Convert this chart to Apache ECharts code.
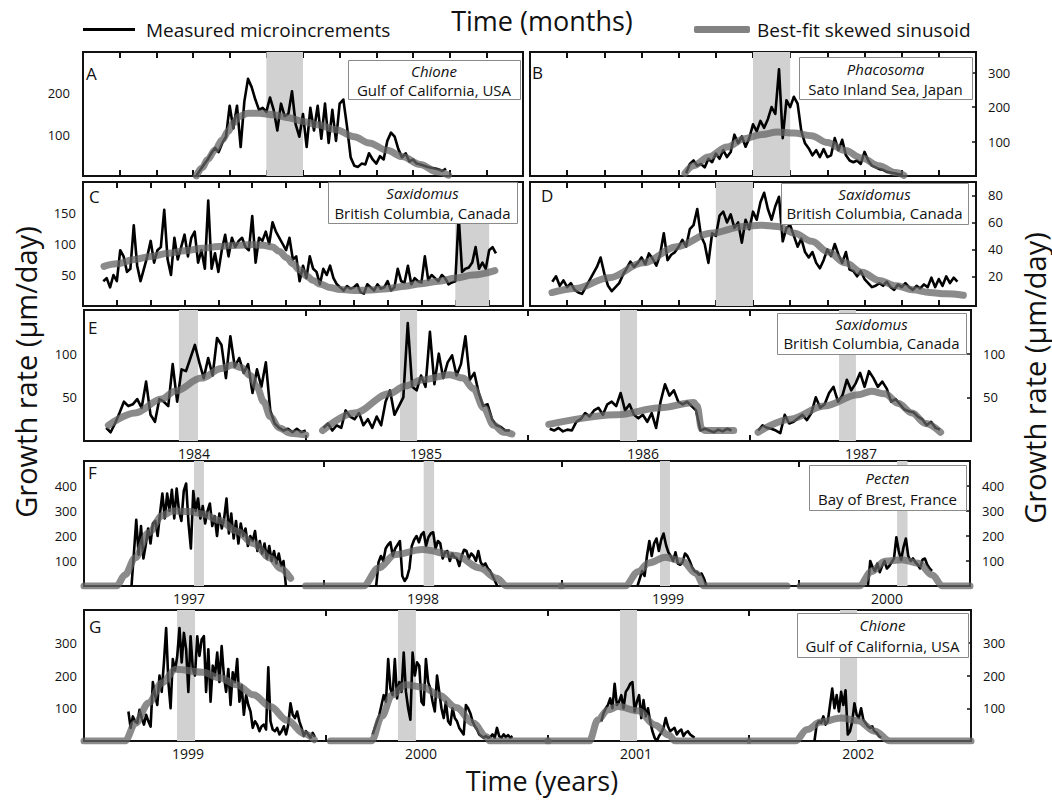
<!DOCTYPE html>
<html><head><meta charset="utf-8">
<script src="https://cdn.jsdelivr.net/npm/echarts@6/dist/echarts.min.js"></script>
<style>html,body{margin:0;padding:0;background:#fff}#c{width:1052px;height:801px}</style>
</head><body><div id="c"></div>
<script>
// ---------------- DATA ----------------
// Panel A  (months)
const A_measStart = 3.1, A_measStep = 0.1;
const A_meas = [2,15,28,40,55,68,58,80,95,170, 115,170,70,180,235,215,185,160,165,155, 190,160,110,175,145,150,205,125,95,150, 70,165,110,170,90,175,80,160,85,175, 185,120,45,25,22,30,28,55,40,30, 48,40,85,105,95,65,45,55,35,40, 30,28,25,22,20,18,16,12,18];
const A_fitX = [3.09,3.25,3.4,3.6,3.8,3.96,4.1,4.25,4.5,4.8,5.2,5.6,6.0,6.4,6.9,7.4,7.8,8.3,8.7,9.2,9.65,9.97];
const A_fitY = [0,20,40,63,88,108,128,144,152,152,148,141,132,124,112,95,80,62,47,28,10,2];
const A_bands = [[5,6]];
const A_yTicks = [100,200];
// Panel B
const B_measStart = 4.2, B_measStep = 0.1;
const B_meas = [8,35,45,30,35,25,50,40,65,50, 75,55,70,120,95,115,85,110,150,130, 160,140,165,200,180,310,110,220,200,230, 210,130,95,80,60,75,55,78,55,60, 110,75,105,60,45,40,45,35,70,45, 30,25,20,18,12,10,8,6,5];
const B_fitX = [4.17,4.4,4.8,5.3,5.76,6.2,6.66,7.1,7.57,8.0,8.48,8.93,9.38,9.84,10.06];
const B_fitY = [8,30,55,84,108,120,128,125,117,97,74,52,30,10,2];
const B_bands = [[6,7]];
const B_yTicks = [100,200,300];
// Panel C
const C_measStart = 0.6, C_measStep = 0.1;
const C_meas = [40,45,30,50,40,90,80,55,60,130, 65,40,60,80,105,70,90,95,155,75, 50,110,75,95,115,80,110,120,70,90, 60,170,60,85,55,90,115,80,110,95, 105,110,95,90,145,70,110,105,120,100, 135,120,110,100,90,110,75,80,40,65, 45,80,60,55,35,60,50,65,45,35, 30,25,32,28,30,35,22,20,35,30, 25,35,28,30,40,25,30,60,40,38, 65,35,45,40,38,80,42,50,45,40, 50,45,35,38,40,145,55,60,62,70, 95,60,70,60,90,95,85];
const C_fitX = [0.62,1.0,1.52,2.0,2.52,3.0,3.52,4.0,4.52,5.0,5.32,5.6,5.8,6.02,6.2,6.4,6.62,6.8,7.02,7.3,7.52,8.02,8.52,9.0,9.52,10.0,10.52,11.0,11.52,12.17];
const C_fitY = [64,68,75,80,85,89,93,96,98,99,98,95,88,78,68,58,48,41,35,30,27,25,26,28,32,36,40,45,50,57];
const C_bands = [[11,12]];
const C_yTicks = [50,100,150];
// Panel D
const D_measStart = 0.6, D_measStep = 0.1;
const D_meas = [16,20,13,17,12,15,10,8,7,12, 17,22,27,34,22,13,9,12,15,21, 26,31,27,30,34,29,37,33,28,36, 52,32,36,38,42,47,42,55,58,70, 50,44,30,52,50,65,68,60,66,56, 60,45,62,55,68,62,75,82,70,62, 72,79,46,56,58,50,42,48,38,34, 38,30,26,32,40,35,44,36,30,38, 25,24,20,24,18,15,12,13,15,13, 16,12,10,14,12,15,12,10,13,11, 14,12,19,12,18,13,20,15,19,16];
const D_fitX = [0.59,1.22,2.13,3.04,3.95,4.85,5.76,6.2,6.67,7.12,7.58,8.03,8.48,8.94,9.39,9.85,10.3,10.75,11.2,11.66];
const D_fitY = [8,11,19,30,42,52,57,58,57,52,46,38,30,23,17,13,10,8,7,6];
const D_bands = [[5,6]];
const D_yTicks = [20,40,60,80];
// Panel E (years)
const E1_measStart = 1983.60, E2_measStart = 1984.58, E3_measStart = 1985.60, E4_measStart = 1986.54, E_measStep = 0.02;
const E1_meas = [15,10,20,32,45,40,42,48,38,68, 30,22,48,45,40,88,45,82,80,95, 110,90,72,95,75,118,110,72,120,85, 95,78,88,55,82,62,90,35,20,15, 12,14,10,14,10,12];
const E2_meas = [15,20,12,18,15,35,28,25,32,18, 25,15,28,18,45,58,30,40,50,135, 62,58,75,62,125,65,100,72,90,98, 75,88,120,70,78,55,40,42,25,18, 16,12,12];
const E3_meas = [14,12,15,11,13,12,22,25,32,28, 35,38,30,42,45,40,55,35,42,30, 26,30,22,32,15,45,65,52,58,45, 42,45,40,35,12,14,12,10,13,11, 14,12];
const E4_meas = [12,18,15,14,12,9,30,20,22,26, 30,24,32,50,38,42,55,62,45,52, 70,58,66,78,62,80,72,62,68,60, 45,48,42,36,34,33,28,25,18,22, 15,13];
const E1_fitX = [1983.61,1983.73,1983.85,1983.91,1984.03,1984.12,1984.17,1984.21,1984.25,1984.28,1984.31,1984.34,1984.38,1984.43,1984.5];
const E1_fitY = [18,32,48,57,72,83,87,84,75,62,45,28,15,9,7];
const E2_fitX = [1984.576,1984.72,1984.875,1984.95,1985.027,1985.149,1985.21,1985.256,1985.302,1985.348,1985.393,1985.43];
const E2_fitY = [12,32,54,63,70,76,72,60,38,18,10,8];
const E3_fitX = [1985.596,1985.9,1986.1,1986.25,1986.265,1986.285,1986.3,1986.43];
const E3_fitY = [19,30,38,44,40,14,12,12];
const E4_fitX = [1986.54,1986.685,1986.837,1986.99,1987.051,1987.112,1987.173,1987.234,1987.295,1987.363];
const E4_fitY = [10,25,40,53,57,54,43,32,20,10];
const E_bands = [[1983.928,1984.014],[1984.925,1985.002],[1985.917,1985.994],[1986.905,1986.981]];
const E_xTicks = [1984.5,1985.5,1986.5];
const E_yearLabels = ['1984','1985','1986','1987'];
const E_yearLabelPos = [1983.996,1985.042,1986.021,1987.004];
const E_yTicks = [50,100];
// Panel F (years)
const F1_measStart = 1996.69, F2_measStart = 1997.72, F3_measStart = 1998.82, F4_measStart = 1999.79, F_measStep = 0.01;
const F1_meas = [0,130,265,125,240,110,165,230,170,250, 260,200,290,370,270,370,300,385,270,390, 300,260,380,410,250,150,380,300,350,270, 320,250,300,330,240,280,200,290,230,270, 350,210,290,190,260,170,250,200,230,160, 200,180,220,140,180,130,170,110,160,100, 140,90,130,80,100,0];
const F2_meas = [0,95,120,100,150,165,175,120,150,165, 180,40,20,35,70,160,185,200,175,205, 215,160,195,210,215,150,180,170,110,135, 140,100,130,115,110,80,120,145,140,110, 130,120,100,140,95,80,90,70,60,40, 20,0];
const F3_meas = [0,30,60,40,120,180,120,170,190,140, 185,210,165,135,120,100,135,90,85,95, 130,120,100,75,60,55,45,50,30,0];
const F4_meas = [0,100,75,60,90,55,80,100,70,80, 95,110,195,140,105,155,190,120,100,110, 95,85,70,105,110,85,70,60];
const F1_fitX = [1996.49,1996.627,1996.663,1996.705,1996.762,1996.819,1996.862,1996.933,1996.99,1997.061,1997.132,1997.203,1997.274,1997.317,1997.36];
const F1_fitY = [0,0,45,112,213,281,300,298,288,262,220,170,112,70,31];
const F2_fitX = [1997.423,1997.666,1997.73,1997.801,1997.914,1998.057,1998.156,1998.227,1998.27,1998.5];
const F2_fitY = [0,0,72,126,146,122,72,31,0,0];
const F3_fitX = [1998.5,1998.767,1998.824,1998.867,1998.938,1999.009,1999.066,1999.101,1999.45];
const F3_fitY = [0,0,58,92,115,99,51,0,0];
const F4_fitX = [1999.505,1999.754,1999.805,1999.862,1999.933,2000.004,2000.061,2000.104,2000.22];
const F4_fitY = [0,0,58,99,105,91,44,0,0];
const F_bands = [[1996.953,1996.995],[1997.92,1997.964],[1998.915,1998.957],[1999.913,1999.957]];
const F_xTicks = [1997.5,1998.5,1999.5];
const F_yearLabels = ['1997','1998','1999','2000'];
const F_yearLabelPos = [1996.932,1997.917,1998.949,1999.871];
const F_yTicks = [100,200,300,400];
// Panel G (years)
const G1_measStart = 1998.61, G2_measStart = 1999.71, G3_measStart = 2000.74, G4_measStart = 2001.70, G_measStep = 0.01;
const G1_meas = [90,40,75,60,55,95,70,50,80,60, 44,180,140,110,200,150,240,345,180,100, 250,215,260,345,240,330,280,150,320,220, 200,320,260,310,320,150,280,120,230,200, 270,180,290,200,150,220,110,210,180,250, 120,170,80,140,110,90,40,60,50,30, 45,50,35,225,60,35,30,40,20,30, 45,20,50,115,80,70,90,60,40,15, 30,20,10,25,12];
const G2_meas = [20,40,60,80,110,140,120,250,160,140, 250,130,180,150,270,150,100,65,270,200, 240,230,120,110,250,180,160,120,90,200, 150,100,70,120,60,50,100,70,60,40, 30,20,110,100,85,60,45,35,20,15, 10,15,10,12,20,10,40,15,10,20, 12,18,10,15];
const G3_meas = [60,85,100,110,130,100,175,110,120,140, 100,150,160,175,180,90,120,140,70,125, 75,100,60,30,10,0,15,25,40,70, 45,30,35,40,20,30,35,15,25,30, 20,15,10];
const G4_meas = [0,50,60,55,75,50,60,110,160,100, 140,90,150,110,155,20,30,60,115,80, 70,100,65,55,45,40,45,30,25,15, 10];
const G1_fitX = [1998.41,1998.595,1998.641,1998.701,1998.762,1998.823,1998.945,1999.021,1999.097,1999.173,1999.249,1999.325,1999.402,1999.447];
const G1_fitY = [0,0,54,116,178,219,210,193,172,141,105,63,22,4];
const G2_fitX = [1999.52,1999.705,1999.751,1999.797,1999.858,1999.934,2000.01,2000.086,2000.162,2000.223,2000.238,2000.5];
const G2_fitY = [0,0,75,140,172,165,140,102,55,13,0,0];
const G3_fitX = [2000.5,2000.686,2000.724,2000.769,2000.815,2000.906,2000.982,2001.043,2001.074,2001.40];
const G3_fitY = [0,0,64,95,105,92,49,18,0,0];
const G4_fitX = [2001.41,2001.614,2001.667,2001.727,2001.82,2001.896,2001.972,2002.04,2002.405];
const G4_fitY = [0,0,35,58,70,62,30,0,0];
const G_bands = [[1998.829,1998.91],[1999.824,1999.905],[2000.824,2000.901],[2001.815,2001.892]];
const G_xTicks = [1999.5,2000.5,2001.405];
const G_yearLabels = ['1999','2000','2001','2002'];
const G_yearLabelPos = [1998.878,1999.928,2000.896,2001.897];
const G_yTicks = [100,200,300];
// shared month ticks
const MONTH_TICKS_12 = [1,2,3,4,5,6,7,8,9,10,11];
const MONTH_TICKS_13 = [1,2,3,4,5,6,7,8,9,10,11,12];
// texts
const SERIES_NAMES = ['Measured microincrements','Best-fit skewed sinusoid'];
const PANEL_LETTERS = ['A','B','C','D','E','F','G'];
const GENUS = ['Chione','Phacosoma','Saxidomus','Saxidomus','Saxidomus','Pecten','Chione'];
const LOCATION = ['Gulf of California, USA','Sato Inland Sea, Japan','British Columbia, Canada','British Columbia, Canada','British Columbia, Canada','Bay of Brest, France','Gulf of California, USA'];
const TITLE_TOP = 'Time (months)', TITLE_BOTTOM = 'Time (years)', Y_TITLE = 'Growth rate (\u03bcm/day)';

// ---------------- BUILD ----------------
const FONT = "'Open Sans', sans-serif";
const INK = '#111';
function pairs(start, step, vals){ return vals.map((v,i)=>[+(start + i*step).toFixed(4), v]); }
function zip(xs, ys){ return xs.map((x,i)=>[x, ys[i]]); }

const panels = [
  {grid:{left:83,top:52,width:440,height:124}, x:[0,12], xTicks:MONTH_TICKS_12, y:[0,300], yTicks:A_yTicks, sides:['left'], lm:13,
   meas:[pairs(A_measStart,A_measStep,A_meas)], fits:[zip(A_fitX,A_fitY)], bands:A_bands},
  {grid:{left:530,top:52,width:446,height:124}, x:[0,12], xTicks:MONTH_TICKS_12, y:[0,360], yTicks:B_yTicks, sides:['right'],
   meas:[pairs(B_measStart,B_measStep,B_meas)], fits:[zip(B_fitX,B_fitY)], bands:B_bands},
  {grid:{left:83,top:182,width:440,height:124}, x:[0,13], xTicks:MONTH_TICKS_13, y:[0,200], yTicks:C_yTicks, sides:['left'], lm:7,
   meas:[pairs(C_measStart,C_measStep,C_meas)], fits:[zip(C_fitX,C_fitY)], bands:C_bands},
  {grid:{left:530,top:182,width:446,height:124}, x:[0,12], xTicks:MONTH_TICKS_12, y:[-2,90], yTicks:D_yTicks, sides:['right'],
   meas:[pairs(D_measStart,D_measStep,D_meas)], fits:[zip(D_fitX,D_fitY)], bands:D_bands},
  {grid:{left:84,top:310,width:887,height:131}, x:[1983.5,1987.5], xTicks:E_xTicks, y:[0,150], yTicks:E_yTicks, sides:['left','right'], lm:7,
   labels:E_yearLabels, labelPos:E_yearLabelPos,
   meas:[pairs(E1_measStart,E_measStep,E1_meas),pairs(E2_measStart,E_measStep,E2_meas),pairs(E3_measStart,E_measStep,E3_meas),pairs(E4_measStart,E_measStep,E4_meas)],
   fits:[zip(E1_fitX,E1_fitY),zip(E2_fitX,E2_fitY),zip(E3_fitX,E3_fitY),zip(E4_fitX,E4_fitY)], bands:E_bands},
  {grid:{left:84,top:461,width:886,height:125}, x:[1996.49,2000.22], xTicks:F_xTicks, y:[0,500], yTicks:F_yTicks, sides:['left','right'], lm:7,
   labels:F_yearLabels, labelPos:F_yearLabelPos,
   meas:[pairs(F1_measStart,F_measStep,F1_meas),pairs(F2_measStart,F_measStep,F2_meas),pairs(F3_measStart,F_measStep,F3_meas),pairs(F4_measStart,F_measStep,F4_meas)],
   fits:[zip(F1_fitX,F1_fitY),zip(F2_fitX,F2_fitY),zip(F3_fitX,F3_fitY),zip(F4_fitX,F4_fitY)], bands:F_bands},
  {grid:{left:84,top:610,width:887,height:131}, x:[1998.41,2002.405], xTicks:G_xTicks, y:[0,400], yTicks:G_yTicks, sides:['left','right'], lm:7,
   labels:G_yearLabels, labelPos:G_yearLabelPos,
   meas:[pairs(G1_measStart,G_measStep,G1_meas),pairs(G2_measStart,G_measStep,G2_meas),pairs(G3_measStart,G_measStep,G3_meas),pairs(G4_measStart,G_measStep,G4_meas)],
   fits:[zip(G1_fitX,G1_fitY),zip(G2_fitX,G2_fitY),zip(G3_fitX,G3_fitY),zip(G4_fitX,G4_fitY)], bands:G_bands}
];

const grid = [], xAxis = [], yAxis = [], series = [];
panels.forEach((p, i) => {
  grid.push(Object.assign({show:true, borderColor:INK, borderWidth:2, backgroundColor:'transparent', containLabel:false}, p.grid));
  const tickCfg = {show:true, inside:true, length:6, customValues:p.xTicks, lineStyle:{color:INK, width:2}};
  const bottom = {gridIndex:i, type:'value', min:p.x[0], max:p.x[1], position:'bottom',
    axisLine:{show:false, onZero:false}, splitLine:{show:false}, axisTick:tickCfg,
    axisLabel: p.labels ? {show:true, customValues:p.labelPos, color:INK, fontSize:14, fontFamily:FONT, margin:5,
      formatter:(v)=>{ const k = p.labelPos.findIndex(q => Math.abs(q - v) < 1e-6); return k >= 0 ? p.labels[k] : ''; }} : {show:false}};
  const top = {gridIndex:i, type:'value', min:p.x[0], max:p.x[1], position:'top',
    axisLine:{show:false, onZero:false}, splitLine:{show:false}, axisTick:tickCfg, axisLabel:{show:false}};
  const xi = xAxis.length; xAxis.push(bottom, top);
  let yi0 = -1;
  p.sides.forEach((side) => {
    const yi = yAxis.length; if (yi0 < 0) yi0 = yi;
    yAxis.push({gridIndex:i, type:'value', min:p.y[0], max:p.y[1], position:side,
      axisLine:{show:false, onZero:false}, splitLine:{show:false},
      axisTick:{show: side === 'right', inside:true, length:4, customValues:p.yTicks, lineStyle:{color:INK, width:1.5}},
      axisLabel:{show:true, customValues:p.yTicks, color:INK, fontSize:13, fontFamily:FONT, margin: side === 'left' ? (p.lm || 7) : 12}});
  });
  // bands
  series.push({type:'line', name:'band'+i, xAxisIndex:xi, yAxisIndex:yi0, data:[], z:1, silent:true,
    markArea:{silent:true, itemStyle:{color:'#d1d1d1'}, data:p.bands.map(b => [{xAxis:b[0]},{xAxis:b[1]}])}});
  p.meas.forEach(d => series.push({type:'line', name:SERIES_NAMES[0], xAxisIndex:xi, yAxisIndex:yi0, data:d,
    symbol:'none', showSymbol:false, z:3, silent:true, itemStyle:{color:'#000'}, lineStyle:{color:'#000', width:2.6, join:'round'}}));
  p.fits.forEach(d => series.push({type:'line', name:SERIES_NAMES[1], xAxisIndex:xi, yAxisIndex:yi0, data:d,
    symbol:'none', showSymbol:false, smooth:0.35, smoothMonotone:'x', z:4, silent:true,
    itemStyle:{color:'#7f7f7f'}, lineStyle:{color:'rgba(100,100,100,0.75)', width:7, cap:'round', join:'round'}}));
});

// graphic: titles, letters, boxes
const graphic = [];
function txt(x, y, s, font, lh, extra){ return Object.assign({type:'text', x:x, y:y, z:20,
  style:{text:s, font:font, lineHeight:lh, fill:INK, align:'center', verticalAlign:'middle', textAlign:'center', textVerticalAlign:'middle'}}, extra || {}); }
graphic.push(txt(542, 20, TITLE_TOP, `27px ${FONT}`, 28));
graphic.push(txt(542, 780, TITLE_BOTTOM, `27px ${FONT}`, 28));
graphic.push(txt(25, 372, Y_TITLE, `29px ${FONT}`, 30, {rotation:Math.PI/2}));
graphic.push(txt(1034, 378, Y_TITLE, `29px ${FONT}`, 30, {rotation:Math.PI/2}));
const letterPos = [[86,73],[532,72],[89,196],[541,195],[88,327],[88,472],[89,626]];
PANEL_LETTERS.forEach((L, i) => {
  graphic.push({type:'text', x:letterPos[i][0], y:letterPos[i][1], z:20,
    style:{text:L, font:`17px ${FONT}`, lineHeight:18, fill:INK, align:'left', verticalAlign:'middle', textAlign:'left', textVerticalAlign:'middle'}});
});
const boxPos = [[348,60,520,99,71,89.5],[799,57,972,99,68.5,89],[328,182,517,223,193,212.5],[781,183,968,224,193.5,213],
                [777,313,966,354,323.5,343],[809,465,966,510,478,498.5],[797,613,968,657,624.5,645.5]];
boxPos.forEach((b, i) => {
  graphic.push({type:'rect', z:15, shape:{x:b[0]+0.5, y:b[1]+0.5, width:b[2]-b[0], height:b[3]-b[1]},
    style:{fill:'#fff', stroke:'#8a8a8a', lineWidth:1}});
  const cx = (b[0]+b[2])/2;
  graphic.push(txt(cx, b[4], GENUS[i], `italic 15px ${FONT}`, 16));
  graphic.push(txt(cx, b[5], LOCATION[i], `15px ${FONT}`, 16));
});

const option = {
  animation:false,
  backgroundColor:'#fff',
  textStyle:{fontFamily:FONT},
  legend:[
    {data:[{name:SERIES_NAMES[0], icon:'rect', itemStyle:{color:'#000'}}], left:83, top:20, padding:0, itemWidth:52, itemHeight:3,
     selectedMode:false, textStyle:{fontSize:19, fontFamily:FONT, color:INK, padding:[0,0,0,6]}},
    {data:[{name:SERIES_NAMES[1], icon:'roundRect', itemStyle:{color:'#828282'}}], left:694, top:20, padding:0, itemWidth:56, itemHeight:7,
     selectedMode:false, textStyle:{fontSize:19, fontFamily:FONT, color:INK, padding:[0,0,0,2]}}
  ],
  grid, xAxis, yAxis, series, graphic
};
const chart = echarts.init(document.getElementById('c'), null, {renderer:'svg'});
chart.setOption(option);
</script></body></html>
